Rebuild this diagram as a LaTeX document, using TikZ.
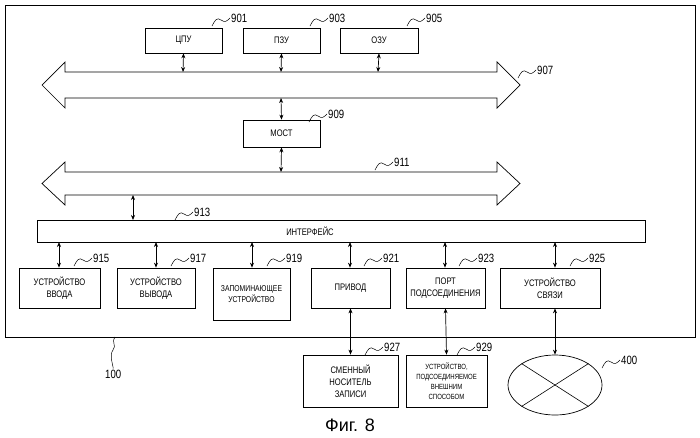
\documentclass[tikz,border=0pt]{standalone}
\usepackage{fontspec}
\setmainfont{Liberation Sans}
\newfontfamily\narrowf{Liberation Sans}[FakeStretch=0.8]
\usetikzlibrary{arrows.meta,shapes.geometric,calc}
\begin{document}
\begin{tikzpicture}[x=1pt,y=-1pt,
  box/.style={draw,line width=0.7pt,align=center,font=\narrowf\fontsize{9.5}{11.5}\selectfont,inner sep=1pt},
  lbl/.style={font=\narrowf\fontsize{12}{13}\selectfont,anchor=west,inner sep=1pt},
  dar/.style={{Stealth[length=5pt,width=4pt]}-{Stealth[length=5pt,width=4pt]},line width=0.7pt},
  sq/.style={line width=0.5pt}]
\useasboundingbox (0,0) rectangle (700,437);
\draw[line width=0.8pt] (5,5) rectangle (695,337);
% top boxes
\node[box,minimum width=77pt,minimum height=25pt] (cpu) at (183.5,40.5) {ЦПУ};
\node[box,minimum width=77pt,minimum height=25pt] (rom) at (281.5,40.5) {ПЗУ};
\node[box,minimum width=78pt,minimum height=25pt] (ram) at (379,40.5) {ОЗУ};
\node[lbl] (l901) at (230,18) {901};
\node[lbl] (l903) at (328,18) {903};
\node[lbl] (l905) at (425,18) {905};
% bus 907
\draw[line width=0.7pt] (65,72) -- (497,72) -- (497,62) -- (520,85) -- (497,108) -- (497,98) -- (65,98) -- (65,108) -- (42,85) -- (65,62) -- cycle;
\coordinate (b1t1) at (183,72); \coordinate (b1t2) at (281,72); \coordinate (b1t3) at (378,72);
\coordinate (b1b) at (281,98);
\node[lbl] (l907) at (536,70) {907};
\node[box,minimum width=77pt,minimum height=27pt] (bridge) at (281.5,133.5) {МОСТ};
\node[lbl] (l909) at (327,114) {909};
% bus 911
\draw[line width=0.7pt] (65,172) -- (497,172) -- (497,162) -- (520,183.5) -- (497,205) -- (497,195) -- (65,195) -- (65,205) -- (42,183.5) -- (65,162) -- cycle;
\coordinate (b2t) at (281,172); \coordinate (b2b) at (133,195);
\node[lbl] (l911) at (393,162) {911};
\node[box,minimum width=608pt,minimum height=22pt] (if) at (341,231) {\hspace*{-62pt}ИНТЕРФЕЙС};
\node[lbl] (l913) at (193,212) {913};
\coordinate (ift) at (133,220);
% arrows
\draw[dar] (cpu.south) -- (b1t1);
\draw[dar] (rom.south) -- (b1t2);
\draw[dar] (ram.south) -- (b1t3);
\draw[dar] (b1b) -- (bridge.north);
\draw[dar] (bridge.south) -- (b2t);
\draw[dar] (b2b) -- (ift);
% lower boxes
\node[box,minimum width=81pt,minimum height=40pt] (in) at (59.5,288) {УСТРОЙСТВО\\ВВОДА};
\node[box,minimum width=78pt,minimum height=40pt] (out) at (156,288) {УСТРОЙСТВО\\ВЫВОДА};
\node[box,minimum width=77pt,minimum height=52pt,font=\narrowf\fontsize{8.5}{11}\selectfont] (st) at (251.5,294) {ЗАПОМИНАЮЩЕЕ\\УСТРОЙСТВО};
\node[box,minimum width=79pt,minimum height=40pt] (drv) at (350.5,288) {ПРИВОД};
\node[box,minimum width=79pt,minimum height=40pt] (port) at (445.5,288) {ПОРТ\\ПОДСОЕДИНЕНИЯ};
\node[box,minimum width=100pt,minimum height=40pt] (com) at (550,288) {УСТРОЙСТВО\\СВЯЗИ};
\foreach \n/\x in {in/59, out/156, st/252, drv/350, port/445, com/555}
  \draw[dar] (\x,242) -- (\n.north -| \x,0);
\node[lbl] (l915) at (92,258) {915};
\node[lbl] (l917) at (189,258) {917};
\node[lbl] (l919) at (285,258) {919};
\node[lbl] (l921) at (382,258) {921};
\node[lbl] (l923) at (477,258) {923};
\node[lbl] (l925) at (588,258) {925};
% bottom row
\node[box,minimum width=95pt,minimum height=52pt,font=\narrowf\fontsize{9.5}{12}\selectfont] (med) at (350.5,381) {СМЕННЫЙ\\НОСИТЕЛЬ\\ЗАПИСИ};
\node[box,minimum width=81pt,minimum height=52pt,font=\narrowf\fontsize{7.5}{10}\selectfont] (ext) at (446.5,381) {УСТРОЙСТВО,\\ПОДСОЕДИНЯЕМОЕ\\ВНЕШНИМ\\СПОСОБОМ};
\node[draw,line width=0.7pt,ellipse,minimum width=94pt,minimum height=60pt,inner sep=0pt] (net) at (555,385) {};
\draw[line width=0.6pt] (net.north west) -- (net.south east) (net.south west) -- (net.north east);
\draw[dar] (drv.south) -- (med.north);
\draw[dar] (port.south) -- (ext.north);
\draw[dar] (com.south -| net.north) -- (net.north);
\node[lbl] (l927) at (383,347) {927};
\node[lbl] (l929) at (475,347) {929};
\node[lbl] (l400) at (620,360) {400};
\node[lbl] (l100) at (104,374) {100};
\node[font=\fontsize{18}{20}\selectfont] (fig) at (350,425) {Фиг. 8};
% squiggles: short tilde ending at label
\foreach \l in {l901,l903,l905,l909,l915,l917,l919,l921,l923,l925,l927,l929,l913,l911,l907,l400}
  \draw[sq] ($(\l.west)+(-18,8)$) .. controls +(3,-6) and +(-4,-3) .. ($(\l.west)+(-9,2)$) .. controls +(4,3) and +(-3,3) .. (\l.west);
\draw[sq] (115,337) .. controls +(-4,6) and +(4,-5) .. (113,350) .. controls +(-4,5) and +(0,-3) .. (l100.north);
\end{tikzpicture}
\end{document}
